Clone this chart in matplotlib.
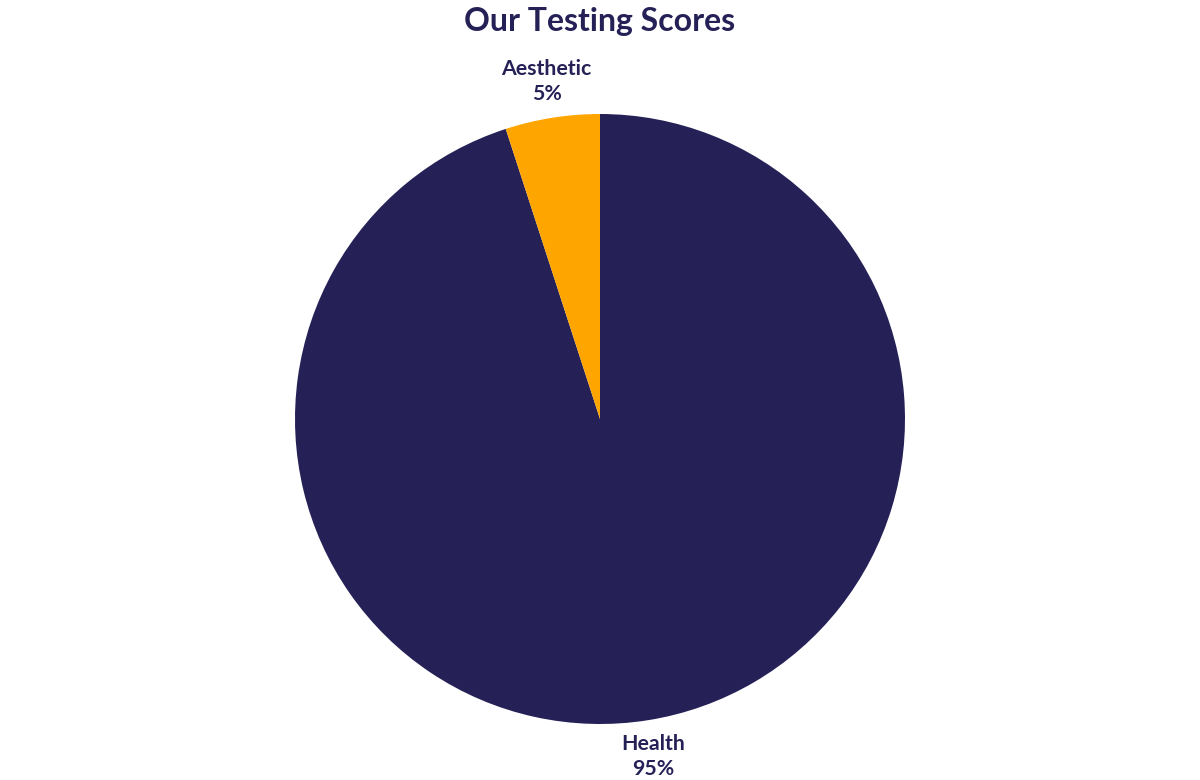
import numpy as np
import matplotlib.pyplot as plt

# --- data ---
categories = ["Health", "Aesthetic"]
scores = [95, 5]
colors = ["#252157", "#FFA500"]
text_color = "#252157"

plt.rcParams['font.family'] = ['Lato', 'DejaVu Sans']

fig = plt.figure(figsize=(12, 7.8), dpi=100)
# pie of radius 1 mapped onto a 610px square centred at (600, 419)
ax = fig.add_axes([295 / 1200, 56 / 780, 610 / 1200, 610 / 780])

wedges, texts = ax.pie(scores, colors=colors, startangle=90, counterclock=False,
                       labels=[f"{c}\n{v}%" for c, v in zip(categories, scores)],
                       labeldistance=1.12,
                       textprops=dict(color=text_color, fontsize=15.3, fontweight='bold',
                                      linespacing=1.3))
for t in texts:
    t.set_horizontalalignment('center')
    t.set_verticalalignment('center')

ax.set_xlim(-1, 1)
ax.set_ylim(-1, 1)
ax.set_aspect('equal')
ax.axis('off')

fig.text(0.5, 1 - 21 / 780, "Our Testing Scores", ha='center', va='center',
         fontsize=23, fontweight='bold', color=text_color)

fig.savefig("out.png", dpi=100)
